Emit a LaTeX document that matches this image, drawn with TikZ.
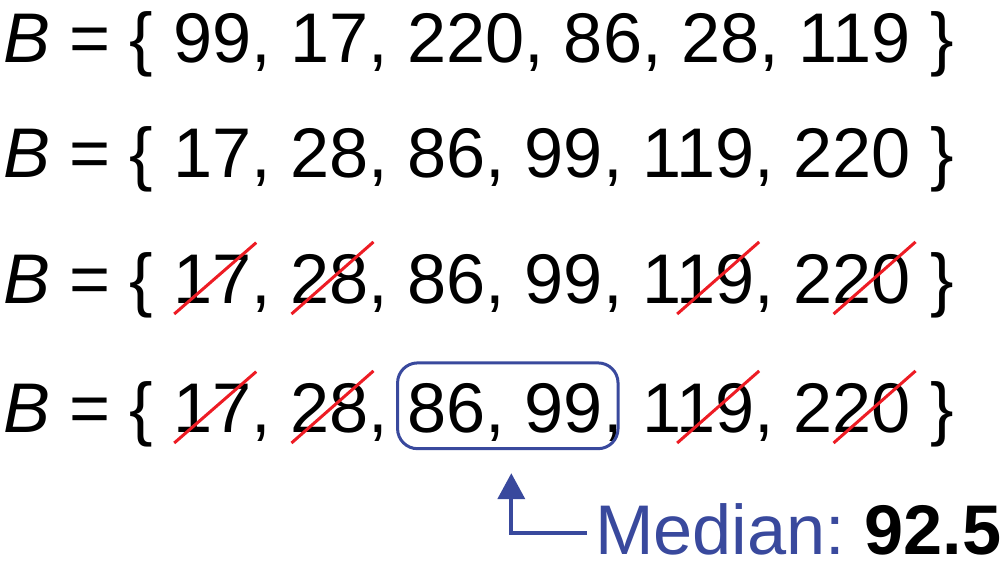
\documentclass[tikz,border=0pt]{standalone}
\usepackage{fontspec}
\setmainfont{Liberation Sans}
\usetikzlibrary{arrows.meta,positioning,fit}

\definecolor{medblue}{RGB}{57,73,157}
\definecolor{strikered}{RGB}{237,28,36}

\tikzset{
  tok/.style={inner sep=0pt, outer sep=0pt, font=\fontsize{70.3}{84}\selectfont},
  strike/.style={draw=strikered, line width=3pt},
  medbox/.style={draw=medblue, line width=3pt, rounded corners=20pt},
}

% one row of the set: #1 name, #2 baseline, #3 values
\newcommand{\brow}[3]{%
  \node[tok, anchor=base west] (#1-0s) at (3,#2) {\textit{B} = \{\kern0.278em};
  \foreach \v [count=\i, remember=\i as \j (initially 0)] in {#3} {
    \node[tok, base right=0pt of #1-\j s] (#1-\i) {\v};
    \node[tok, base right=0pt of #1-\i] (#1-\i s) {\ifnum\i=6 \kern0.278em\}\else,\kern0.278em\fi};
  }%
}

\begin{document}
\begin{tikzpicture}[x=1pt, y=1pt, >={Triangle[width=27pt,length=26pt]}]
  \useasboundingbox (0,0) rectangle (1007,-581);
  \brow{r1}{-62}{99,17,220,86,28,119}
  \brow{r2}{-177}{17,28,86,99,119,220}
  \brow{r3}{-303}{17,28,86,99,119,220}
  \brow{r4}{-432}{17,28,86,99,119,220}
  % crossed out values
  \foreach \r in {r3,r4}
    \foreach \k in {1,2,5,6}
      \draw[strike] ([xshift=-77pt,yshift=-11pt]\r-\k.base east) -- ([xshift=5pt,yshift=12pt]\r-\k.north east);
  \node[medbox, fit=(r4-3)(r4-4), inner xsep=12.5pt, inner ysep=18pt, xshift=2.5pt, yshift=2pt] (mid) {};
  \node[tok, anchor=base west, text=medblue] (med) at (595,-554) {Median:\ \textcolor{black}{\textbf{92.5}}};
  \draw[->, medblue, line width=4pt] ([xshift=-8pt,yshift=-4pt]med.west) -| ([xshift=3.5pt,yshift=-23pt]mid.south);
\end{tikzpicture}
\end{document}
